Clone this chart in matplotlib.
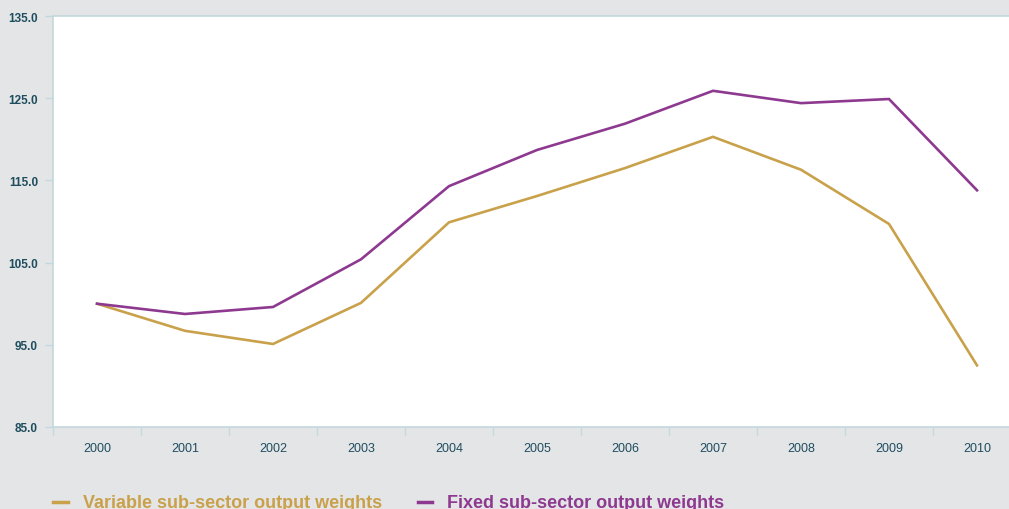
import matplotlib
matplotlib.use("Agg")
import matplotlib.pyplot as plt
from matplotlib.lines import Line2D

years = ["2000", "2001", "2002", "2003", "2004", "2005", "2006", "2007", "2008", "2009", "2010"]
variable_weights = [100.0, 96.7, 95.1, 100.1, 109.9, 113.1, 116.5, 120.3, 116.3, 109.7, 92.5]
fixed_weights = [100.0, 98.75, 99.6, 105.4, 114.3, 118.7, 121.9, 125.9, 124.4, 124.9, 113.8]
y_ticks = [85.0, 95.0, 105.0, 115.0, 125.0, 135.0]

GOLD = "#C9A14B"
PURPLE = "#8E3990"
BG = "#E4E5E7"
TEXT = "#1E4D5E"
AXIS = "#C3D8DE"

plt.rcParams['font.family'] = ['Liberation Sans', 'DejaVu Sans']

W, H = 1009, 510
fig = plt.figure(figsize=(W / 100, H / 100), dpi=100, facecolor=BG)
left, right, top, bottom = 53, 1021, 17, 428
ax = fig.add_axes([left / W, 1 - bottom / H, (right - left) / W, (bottom - top) / H])
ax.set_facecolor("white")

x = list(range(len(years)))
ax.plot(x, variable_weights, color=GOLD, lw=1.9, solid_joinstyle="miter")
ax.plot(x, fixed_weights, color=PURPLE, lw=1.9, solid_joinstyle="miter")

ax.set_xlim(-0.5, len(years) - 0.5)
ax.set_ylim(85, 135)
ax.set_yticks(y_ticks)
ax.set_yticklabels([f"{v:.1f}" for v in y_ticks], fontsize=8.5, color=TEXT, fontweight="bold")
ax.set_xticks(x)
ax.set_xticklabels(years, fontsize=9, color=TEXT)
ax.tick_params(axis="x", which="major", length=0, pad=11)
ax.set_xticks([i - 0.5 for i in range(len(years) + 1)], minor=True)
ax.tick_params(axis="x", which="minor", length=5.5, color=AXIS, width=1)
ax.tick_params(axis="y", length=5.8, color=AXIS, width=1, pad=5)

ax.spines["right"].set_visible(False)
for s in ["left", "bottom", "top"]:
    ax.spines[s].set_color(AXIS)
    ax.spines[s].set_linewidth(1.2)

# legend drawn manually at the bottom
labels = ["Variable sub-sector output weights", "Fixed sub-sector output weights"]
colors = [GOLD, PURPLE]
line_x = [(53, 68), (418, 432)]
text_x = [83, 447]
for lab, c, (x0, x1), tx in zip(labels, colors, line_x, text_x):
    fig.add_artist(Line2D([x0 / W, x1 / W], [1 - 503 / H, 1 - 503 / H], color=c, lw=2.5,
                          transform=fig.transFigure))
    fig.text(tx / W, 1 - 508 / H, lab, color=c, fontsize=13, fontweight="bold",
             ha="left", va="baseline")

fig.savefig("out.png", dpi=100, facecolor=BG)
